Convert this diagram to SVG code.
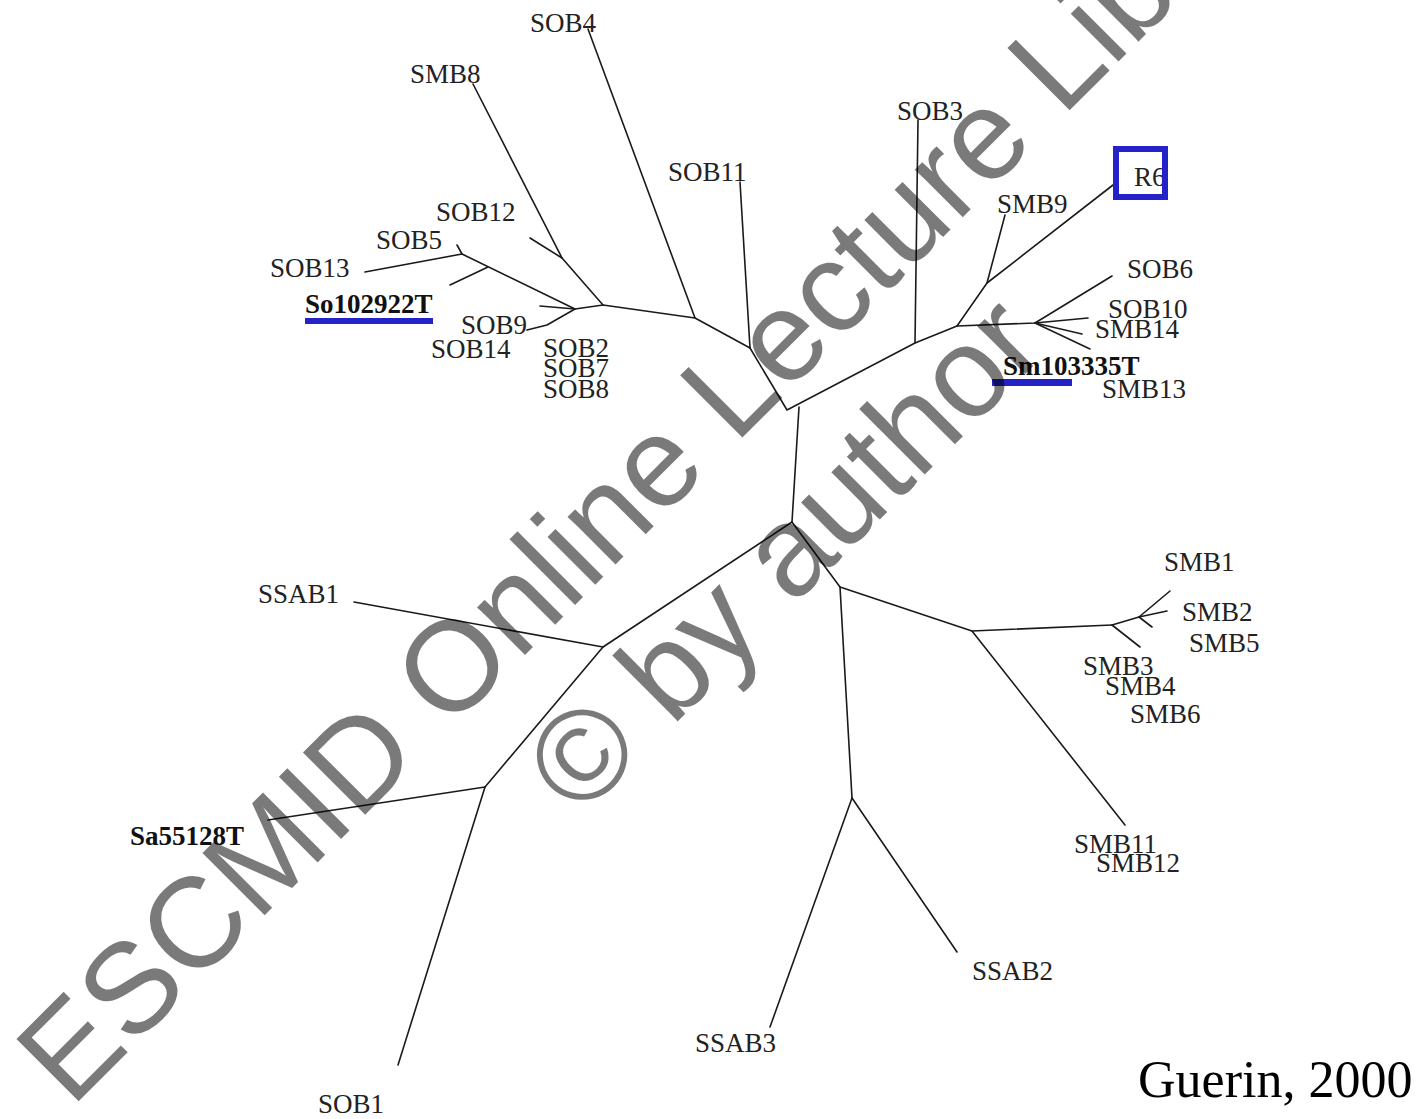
<svg xmlns="http://www.w3.org/2000/svg" width="1416" height="1119" viewBox="0 0 1416 1119">
<style>
  .lbl{font-family:"Liberation Serif","Times New Roman",serif;font-size:27px;fill:#222}
  .bold{font-weight:bold;fill:#111}
  .br{fill:none;stroke:#1a1a1a;stroke-width:1.6;stroke-linejoin:round;stroke-linecap:round}
  .ul{fill:#2323c8}
  .wm{font-family:"Liberation Sans",Arial,sans-serif;font-size:128px;fill:#000;fill-opacity:0.52;text-anchor:middle}
</style>
<rect width="1416" height="1119" fill="#fff"/>
<g id="connectors" class="br">
  <!-- left-top cluster -->
  <polyline points="588,29 695,318"/>
  <polyline points="473,84 562,258 603,305"/>
  <polyline points="530,238 562,258"/>
  <polyline points="365,272 462,254 575,309"/>
  <polyline points="457,245 462,254"/>
  <polyline points="450,285 488,267"/>
  <polyline points="527,330 547,325 575,309"/>
  <polyline points="540,306 575,309 603,305 695,318 750,348"/>
  <polyline points="740,182 750,348"/>
  <polyline points="750,348 787,410 915,343 957,326"/>
  <polyline points="918,120 915,343"/>
  <polyline points="957,326 987,283 1005,215"/>
  <polyline points="987,283 1113,185"/>
  <polyline points="957,326 1035,323 1112,276"/>
  <polyline points="1035,323 1088,318"/>
  <polyline points="1035,323 1082,334"/>
  <polyline points="1035,323 1090,349"/>
  <!-- trunk -->
  <polyline points="799,407 792,522"/>
  <polyline points="792,522 603,647 485,787"/>
  <polyline points="354,602 603,647"/>
  <polyline points="268,820 485,787"/>
  <polyline points="485,787 398,1065"/>
  <polyline points="792,522 840,587 972,631 1112,625"/>
  <polyline points="972,631 1125,825"/>
  <polyline points="1112,625 1139,617 1170,591"/>
  <polyline points="1139,617 1167,611"/>
  <polyline points="1139,617 1152,627"/>
  <polyline points="1112,625 1140,647"/>
  <polyline points="840,587 852,798"/>
  <polyline points="852,798 770,1027"/>
  <polyline points="852,798 957,952"/>
</g>
<g id="node-SOB4"><text class="lbl" x="530" y="32">SOB4</text></g>
<g id="node-SMB8"><text class="lbl" x="410" y="83">SMB8</text></g>
<g id="node-SOB3"><text class="lbl" x="897" y="120">SOB3</text></g>
<g id="node-SOB11"><text class="lbl" x="668" y="181">SOB11</text></g>
<g id="node-SMB9"><text class="lbl" x="997" y="213">SMB9</text></g>
<g id="node-R6">
  <text class="lbl" x="1134" y="186">R6</text>
  <rect x="1116" y="149" width="49" height="48" fill="none" stroke="#2323c8" stroke-width="6"/>
</g>
<g id="node-SOB12"><text class="lbl" x="436" y="221">SOB12</text></g>
<g id="node-SOB5"><text class="lbl" x="376" y="249">SOB5</text></g>
<g id="node-SOB13"><text class="lbl" x="270" y="277">SOB13</text></g>
<g id="node-So102922T">
  <text class="lbl bold" x="305" y="313">So102922T</text>
  <rect class="ul" x="305" y="318" width="128" height="6"/>
</g>
<g id="node-SOB9"><text class="lbl" x="461" y="334">SOB9</text></g>
<g id="node-SOB14"><text class="lbl" x="431" y="358">SOB14</text></g>
<g id="node-SOB2-7-8">
  <text class="lbl" x="543" y="357">SOB2</text>
  <text class="lbl" x="543" y="377">SOB7</text>
  <text class="lbl" x="543" y="398">SOB8</text>
</g>
<g id="node-SOB6"><text class="lbl" x="1127" y="278">SOB6</text></g>
<g id="node-SOB10"><text class="lbl" x="1108" y="318">SOB10</text></g>
<g id="node-SMB14"><text class="lbl" x="1095" y="338">SMB14</text></g>
<g id="node-Sm103335T">
  <text class="lbl bold" x="1003" y="375">Sm103335T</text>
  <rect class="ul" x="992" y="379" width="80" height="7"/>
</g>
<g id="node-SMB13"><text class="lbl" x="1102" y="398">SMB13</text></g>
<g id="node-SMB1"><text class="lbl" x="1164" y="571">SMB1</text></g>
<g id="node-SMB2"><text class="lbl" x="1182" y="621">SMB2</text></g>
<g id="node-SMB5"><text class="lbl" x="1189" y="652">SMB5</text></g>
<g id="node-SMB3"><text class="lbl" x="1083" y="675">SMB3</text></g>
<g id="node-SMB4"><text class="lbl" x="1105" y="695">SMB4</text></g>
<g id="node-SMB6"><text class="lbl" x="1130" y="723">SMB6</text></g>
<g id="node-SSAB1"><text class="lbl" x="258" y="603">SSAB1</text></g>
<g id="node-Sa55128T"><text class="lbl bold" x="130" y="845">Sa55128T</text></g>
<g id="node-SMB11"><text class="lbl" x="1074" y="853">SMB11</text></g>
<g id="node-SMB12"><text class="lbl" x="1096" y="872">SMB12</text></g>
<g id="node-SSAB2"><text class="lbl" x="972" y="980">SSAB2</text></g>
<g id="node-SSAB3"><text class="lbl" x="695" y="1052">SSAB3</text></g>
<g id="node-SOB1"><text class="lbl" x="318" y="1113">SOB1</text></g>
<g id="citation"><text x="1138" y="1097" style="font-family:'Liberation Serif','Times New Roman',serif;font-size:52px;fill:#000">Guerin, 2000</text></g>
<g id="watermark" transform="translate(705,475) rotate(-45)">
  <text class="wm" x="0" y="0">ESCMID Online Lecture Library</text>
  <text class="wm" x="0" y="155">© by author</text>
</g>
</svg>
